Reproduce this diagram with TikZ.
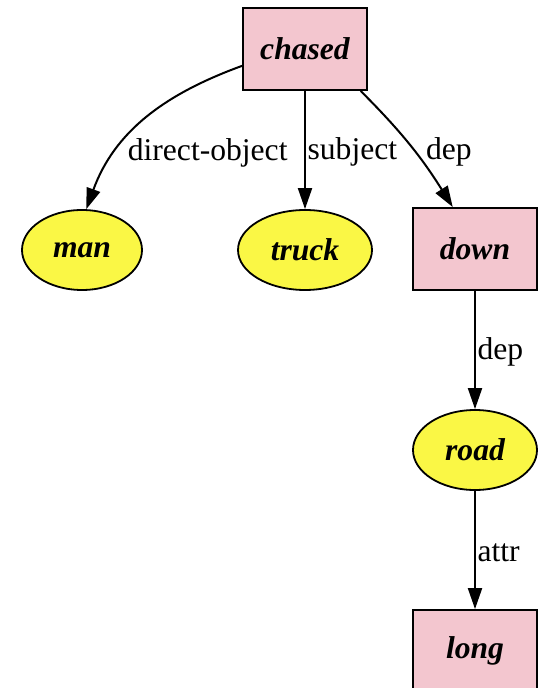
\documentclass[tikz,border=0pt]{standalone}
\usepackage{fontspec}
\setmainfont{Liberation Serif}
\usetikzlibrary{arrows.meta, shapes.geometric}
\definecolor{boxpink}{HTML}{F3C6CF}
\definecolor{ovalyellow}{HTML}{FAF745}

\begin{document}
\begin{tikzpicture}[
  x=0.5pt, y=0.5pt,
  >={Triangle[length=10.5pt, width=7pt]},
  wordbox/.style={draw, line width=0.9pt, fill=boxpink, minimum width=62pt,
    minimum height=41pt, inner sep=0pt,
    font=\fontsize{15.8}{18}\selectfont\bfseries\itshape},
  wordoval/.style={ellipse, draw, line width=0.9pt, fill=ovalyellow,
    minimum height=40pt, inner sep=0pt,
    font=\fontsize{15.8}{18}\selectfont\bfseries\itshape},
  deplabel/.style={font=\fontsize{15.8}{18}\selectfont, inner sep=0.8pt},
  link/.style={->, line width=1pt},
]

% Page frame
\useasboundingbox (0,0) rectangle (544,-688);

% Words
\node[wordbox] (chased) at (305,-49) {chased};
\node[wordoval, minimum width=60pt] (man) at (82,-250) {man};
\node[wordoval, minimum width=67pt] (truck) at (305,-250) {truck};
\node[wordbox] (down) at (475,-249) {down};
\node[wordoval, minimum width=62pt] (road) at (475,-450) {road};
\node[wordbox] (long) at (475,-651) {long};

% Dependencies
\draw[link] (chased.195) to[out=200, in=70]
  node[deplabel, pos=0.72, anchor=west, xshift=5pt] {direct-object} (man.84);
\draw[link] (chased.south) --
  node[deplabel, pos=0.52, anchor=west] {subject} (truck.north);
\draw[link] (chased.-37) to[out=-45, in=122]
  node[deplabel, pos=0.56, anchor=west, xshift=4pt] {dep} (down.118);
\draw[link] (down.south) --
  node[deplabel, pos=0.52, anchor=west] {dep} (road.north);
\draw[link] (road.south) --
  node[deplabel, pos=0.52, anchor=west] {attr} (long.north);

\end{tikzpicture}
\end{document}
